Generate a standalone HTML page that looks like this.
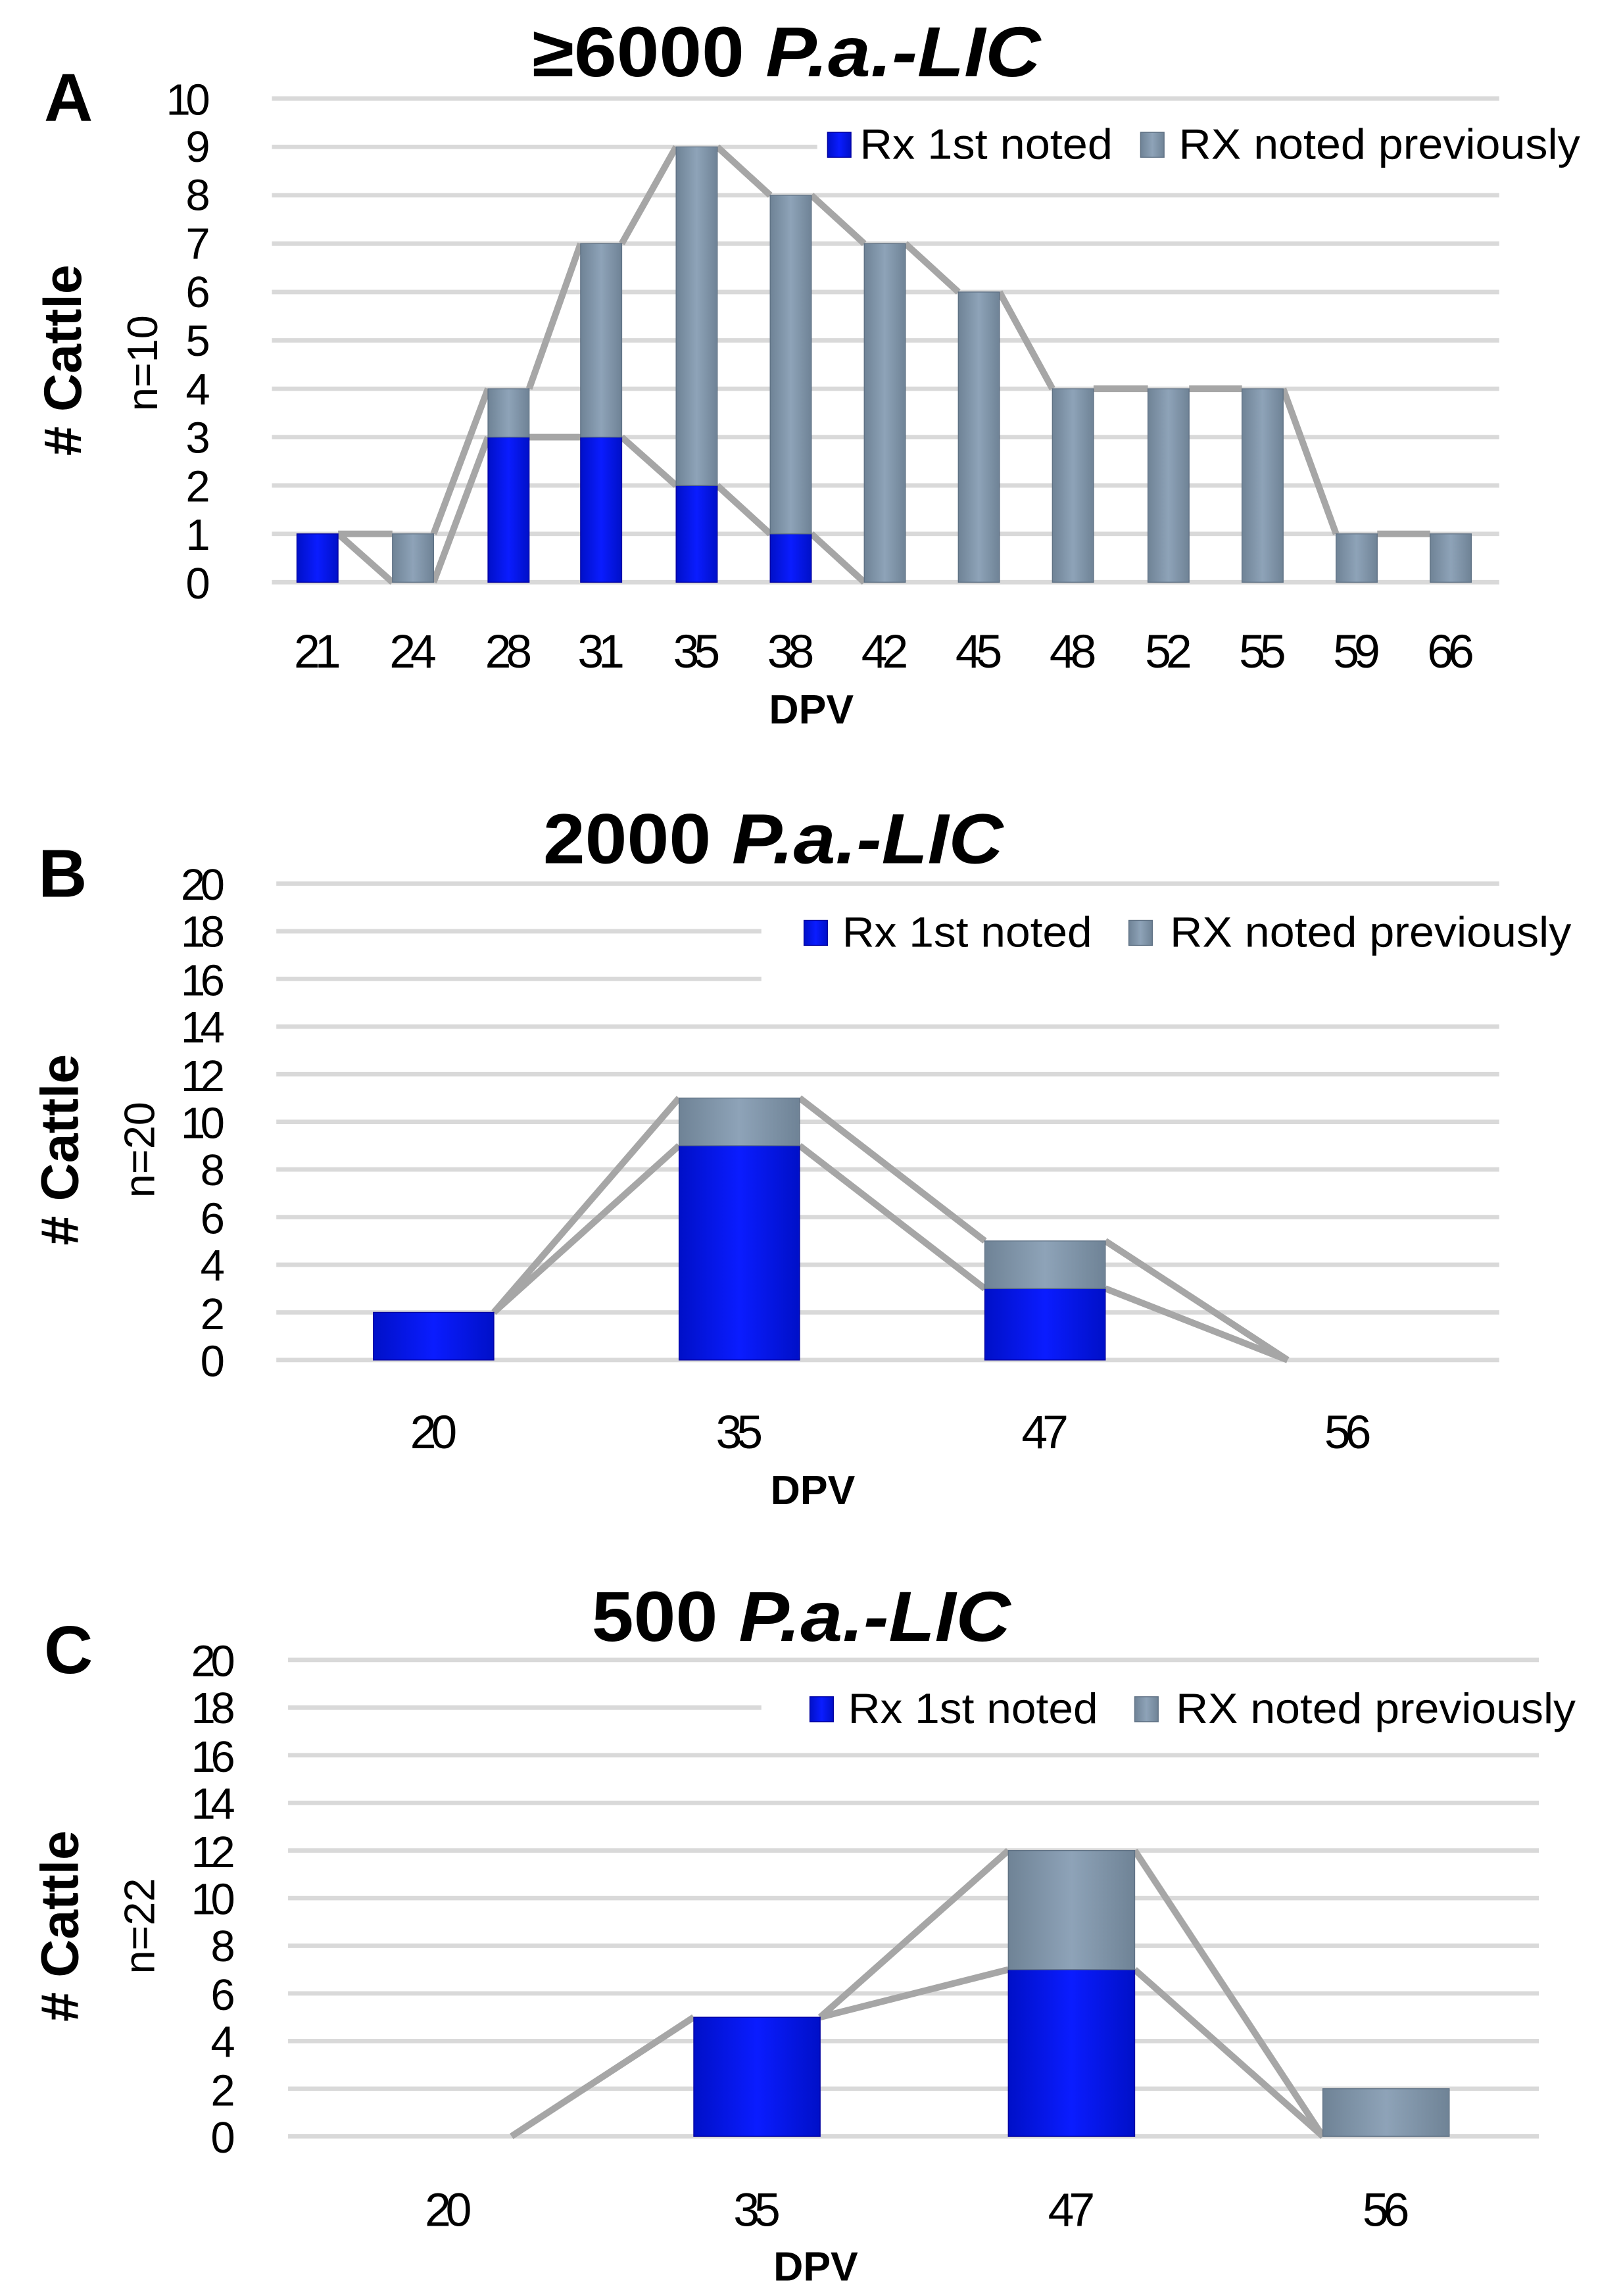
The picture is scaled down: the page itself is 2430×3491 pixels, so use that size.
<!DOCTYPE html>
<html><head><meta charset="utf-8"><style>
html,body{margin:0;padding:0;background:#fff}
svg{display:block}
.t{font-family:"Liberation Sans Narrow","Liberation Sans",sans-serif;fill:#000}
.yl{font-size:30px;text-anchor:end}
.xl{font-size:32px;text-anchor:middle}
.ti{font-family:"Liberation Sans Narrow","Liberation Sans",sans-serif;font-weight:bold;font-size:48px;text-anchor:middle}
.pl{font-family:"Liberation Sans",sans-serif;font-weight:bold;font-size:46px}
.dpv{font-family:"Liberation Sans Narrow","Liberation Sans",sans-serif;font-weight:bold;font-size:28px;text-anchor:middle}
.cat{font-family:"Liberation Sans",sans-serif;font-weight:bold;font-size:36px;text-anchor:middle}
.n{font-family:"Liberation Sans",sans-serif;font-size:29px;text-anchor:middle}
.lg{font-size:29px}
.g line{stroke:#d9d9d9;stroke-width:3}
.s line{stroke:#a6a6a6;stroke-width:4.5}
.b{fill:url(#gb);stroke:#0000a0;stroke-width:0.6}
.p{fill:url(#gg);stroke:#5f7184;stroke-width:0.6}
</style></head><body>
<svg width="2430" height="3491" viewBox="0 0 1087.2 1561.6" preserveAspectRatio="none" xmlns="http://www.w3.org/2000/svg">
<defs>
<linearGradient id="gb" x1="0" x2="1" y1="0" y2="0"><stop offset="0" stop-color="#0010c8"/><stop offset="0.5" stop-color="#0a1cff"/><stop offset="1" stop-color="#0010c8"/></linearGradient>
<linearGradient id="gg" x1="0" x2="1" y1="0" y2="0"><stop offset="0" stop-color="#6f8396"/><stop offset="0.5" stop-color="#8ea3b8"/><stop offset="1" stop-color="#6f8396"/></linearGradient>
</defs>

<!-- Panel A -->
<text class="pl" x="30" y="82">A</text>
<text class="ti" x="535" y="52" textLength="346" lengthAdjust="spacingAndGlyphs">≥6000 <tspan font-style="italic">P.a.-LIC</tspan></text>
<g class="g"><line x1="185" x2="1020" y1="396" y2="396"/><line x1="185" x2="1020" y1="363.1" y2="363.1"/><line x1="185" x2="1020" y1="330.2" y2="330.2"/><line x1="185" x2="1020" y1="297.3" y2="297.3"/><line x1="185" x2="1020" y1="264.4" y2="264.4"/><line x1="185" x2="1020" y1="231.5" y2="231.5"/><line x1="185" x2="1020" y1="198.6" y2="198.6"/><line x1="185" x2="1020" y1="165.7" y2="165.7"/><line x1="185" x2="1020" y1="132.8" y2="132.8"/><line x1="185" x2="1020" y1="99.9" y2="99.9"/><line x1="185" x2="1020" y1="67" y2="67"/></g>
<g class="t yl"><text x="143" y="407" textLength="15">0</text><text x="143" y="374" textLength="15">1</text><text x="143" y="341" textLength="15">2</text><text x="143" y="308" textLength="15">3</text><text x="143" y="275" textLength="15">4</text><text x="143" y="242" textLength="15">5</text><text x="143" y="209" textLength="15">6</text><text x="143" y="176" textLength="15">7</text><text x="143" y="143" textLength="15">8</text><text x="143" y="110" textLength="15">9</text><text x="143" y="78" textLength="30">10</text></g>
<g class="s">
<line x1="230" y1="363.1" x2="267" y2="363.1"/><line x1="295" y1="363.1" x2="332" y2="264.4"/><line x1="360" y1="264.4" x2="395" y2="165.7"/><line x1="423" y1="165.7" x2="460" y2="99.9"/><line x1="488" y1="99.9" x2="524" y2="132.8"/><line x1="552" y1="132.8" x2="588" y2="165.7"/><line x1="616" y1="165.7" x2="652" y2="198.6"/><line x1="680" y1="198.6" x2="716" y2="264.4"/><line x1="744" y1="264.4" x2="781" y2="264.4"/><line x1="809" y1="264.4" x2="845" y2="264.4"/><line x1="873" y1="264.4" x2="909" y2="363.1"/><line x1="937" y1="363.1" x2="973" y2="363.1"/>
<line x1="230" y1="363.1" x2="267" y2="396"/><line x1="295" y1="396" x2="332" y2="297.3"/><line x1="360" y1="297.3" x2="395" y2="297.3"/><line x1="423" y1="297.3" x2="460" y2="330.2"/><line x1="488" y1="330.2" x2="524" y2="363.1"/><line x1="552" y1="363.1" x2="588" y2="396"/>
</g>
<rect class="b" x="202" y="363.1" width="28" height="32.9"/>
<rect class="p" x="267" y="363.1" width="28" height="32.9"/>
<rect class="b" x="332" y="297.3" width="28" height="98.7"/><rect class="p" x="332" y="264.4" width="28" height="32.9"/>
<rect class="b" x="395" y="297.3" width="28" height="98.7"/><rect class="p" x="395" y="165.7" width="28" height="131.6"/>
<rect class="b" x="460" y="330.2" width="28" height="65.8"/><rect class="p" x="460" y="99.9" width="28" height="230.3"/>
<rect class="b" x="524" y="363.1" width="28" height="32.9"/><rect class="p" x="524" y="132.8" width="28" height="230.3"/>
<rect class="p" x="588" y="165.7" width="28" height="230.3"/>
<rect class="p" x="652" y="198.6" width="28" height="197.4"/>
<rect class="p" x="716" y="264.4" width="28" height="131.6"/>
<rect class="p" x="781" y="264.4" width="28" height="131.6"/>
<rect class="p" x="845" y="264.4" width="28" height="131.6"/>
<rect class="p" x="909" y="363.1" width="28" height="32.9"/>
<rect class="p" x="973" y="363.1" width="28" height="32.9"/>
<rect x="556" y="82" width="524" height="34" fill="#fff"/>
<rect class="b" x="563" y="90" width="16" height="17"/><text class="t lg" x="585" y="108" textLength="172" lengthAdjust="spacingAndGlyphs">Rx 1st noted</text>
<rect class="p" x="776" y="90" width="16" height="17"/><text class="t lg" x="802" y="108" textLength="273" lengthAdjust="spacingAndGlyphs">RX noted previously</text>
<g class="t xl"><text x="216" y="454" textLength="32">21</text><text x="281" y="454" textLength="32">24</text><text x="346" y="454" textLength="32">28</text><text x="409" y="454" textLength="32">31</text><text x="474" y="454" textLength="32">35</text><text x="538" y="454" textLength="32">38</text><text x="602" y="454" textLength="32">42</text><text x="666" y="454" textLength="32">45</text><text x="730" y="454" textLength="32">48</text><text x="795" y="454" textLength="32">52</text><text x="859" y="454" textLength="32">55</text><text x="923" y="454" textLength="32">59</text><text x="987" y="454" textLength="32">66</text></g>
<text class="dpv" x="552" y="492">DPV</text>
<text class="cat" transform="translate(55,245) rotate(-90)">#  Cattle</text>
<text class="n" transform="translate(107,247) rotate(-90)">n=10</text>

<!-- Panel B -->
<text class="pl" x="26" y="610">B</text>
<text class="ti" x="526" y="587" textLength="313" lengthAdjust="spacingAndGlyphs">2000 <tspan font-style="italic">P.a.-LIC</tspan></text>
<g class="g"><line x1="188" x2="1020" y1="925" y2="925"/><line x1="188" x2="1020" y1="892.6" y2="892.6"/><line x1="188" x2="1020" y1="860.2" y2="860.2"/><line x1="188" x2="1020" y1="827.8" y2="827.8"/><line x1="188" x2="1020" y1="795.4" y2="795.4"/><line x1="188" x2="1020" y1="763" y2="763"/><line x1="188" x2="1020" y1="730.6" y2="730.6"/><line x1="188" x2="1020" y1="698.2" y2="698.2"/><line x1="188" x2="1020" y1="665.8" y2="665.8"/><line x1="188" x2="1020" y1="633.4" y2="633.4"/><line x1="188" x2="1020" y1="601" y2="601"/></g>
<g class="t yl"><text x="153" y="936" textLength="15">0</text><text x="153" y="904" textLength="15">2</text><text x="153" y="871" textLength="15">4</text><text x="153" y="839" textLength="15">6</text><text x="153" y="806" textLength="15">8</text><text x="153" y="774" textLength="30">10</text><text x="153" y="742" textLength="30">12</text><text x="153" y="709" textLength="30">14</text><text x="153" y="677" textLength="30">16</text><text x="153" y="644" textLength="30">18</text><text x="153" y="612" textLength="30">20</text></g>
<rect x="518" y="612" width="510" height="60" fill="#fff"/>
<g class="s">
<line x1="336" y1="892.6" x2="462" y2="746.8"/><line x1="544" y1="746.8" x2="670" y2="844"/><line x1="752" y1="844" x2="876" y2="925"/>
<line x1="336" y1="892.6" x2="462" y2="779.2"/><line x1="544" y1="779.2" x2="670" y2="876.4"/><line x1="752" y1="876.4" x2="876" y2="925"/>
</g>
<rect class="b" x="254" y="892.6" width="82" height="32.4"/>
<rect class="b" x="462" y="779.2" width="82" height="145.8"/><rect class="p" x="462" y="746.8" width="82" height="32.4"/>
<rect class="b" x="670" y="876.4" width="82" height="48.6"/><rect class="p" x="670" y="844" width="82" height="32.4"/>
<rect class="b" x="547" y="626" width="16" height="17"/><text class="t lg" x="573" y="644" textLength="170" lengthAdjust="spacingAndGlyphs">Rx 1st noted</text>
<rect class="p" x="768" y="626" width="16" height="17"/><text class="t lg" x="796" y="644" textLength="273" lengthAdjust="spacingAndGlyphs">RX noted previously</text>
<g class="t xl"><text x="295" y="985" textLength="32">20</text><text x="503" y="985" textLength="32">35</text><text x="711" y="985" textLength="32">47</text><text x="917" y="985" textLength="32">56</text></g>
<text class="dpv" x="553" y="1023">DPV</text>
<text class="cat" transform="translate(53,782) rotate(-90)">#  Cattle</text>
<text class="n" transform="translate(105,782) rotate(-90)">n=20</text>

<!-- Panel C -->
<text class="pl" x="30" y="1138">C</text>
<text class="ti" x="545" y="1116" textLength="285" lengthAdjust="spacingAndGlyphs">500 <tspan font-style="italic">P.a.-LIC</tspan></text>
<g class="g"><line x1="196" x2="1047" y1="1453" y2="1453"/><line x1="196" x2="1047" y1="1420.6" y2="1420.6"/><line x1="196" x2="1047" y1="1388.2" y2="1388.2"/><line x1="196" x2="1047" y1="1355.8" y2="1355.8"/><line x1="196" x2="1047" y1="1323.4" y2="1323.4"/><line x1="196" x2="1047" y1="1291" y2="1291"/><line x1="196" x2="1047" y1="1258.6" y2="1258.6"/><line x1="196" x2="1047" y1="1226.2" y2="1226.2"/><line x1="196" x2="1047" y1="1193.8" y2="1193.8"/><line x1="196" x2="1047" y1="1161.4" y2="1161.4"/><line x1="196" x2="1047" y1="1129" y2="1129"/></g>
<g class="t yl"><text x="160" y="1464" textLength="15">0</text><text x="160" y="1432" textLength="15">2</text><text x="160" y="1399" textLength="15">4</text><text x="160" y="1367" textLength="15">6</text><text x="160" y="1334" textLength="15">8</text><text x="160" y="1302" textLength="30">10</text><text x="160" y="1270" textLength="30">12</text><text x="160" y="1237" textLength="30">14</text><text x="160" y="1205" textLength="30">16</text><text x="160" y="1172" textLength="30">18</text><text x="160" y="1140" textLength="30">20</text></g>
<rect x="518" y="1145" width="535" height="34" fill="#fff"/>
<g class="s">
<line x1="348" y1="1453" x2="472" y2="1372"/><line x1="558" y1="1372" x2="686" y2="1258.6"/><line x1="558" y1="1372" x2="686" y2="1339.6"/><line x1="772" y1="1258.6" x2="900" y2="1453"/><line x1="772" y1="1339.6" x2="900" y2="1453"/>
</g>
<rect class="b" x="472" y="1372" width="86" height="81"/>
<rect class="b" x="686" y="1339.6" width="86" height="113.4"/><rect class="p" x="686" y="1258.6" width="86" height="81"/>
<rect class="p" x="900" y="1420.6" width="86" height="32.4"/>
<rect class="b" x="551" y="1154" width="16" height="17"/><text class="t lg" x="577" y="1172" textLength="170" lengthAdjust="spacingAndGlyphs">Rx 1st noted</text>
<rect class="p" x="772" y="1154" width="16" height="17"/><text class="t lg" x="800" y="1172" textLength="272" lengthAdjust="spacingAndGlyphs">RX noted previously</text>
<g class="t xl"><text x="305" y="1514" textLength="32">20</text><text x="515" y="1514" textLength="32">35</text><text x="729" y="1514" textLength="32">47</text><text x="943" y="1514" textLength="32">56</text></g>
<text class="dpv" x="555" y="1551">DPV</text>
<text class="cat" transform="translate(53,1310) rotate(-90)">#  Cattle</text>
<text class="n" transform="translate(105,1310) rotate(-90)">n=22</text>
</svg>
</body></html>
